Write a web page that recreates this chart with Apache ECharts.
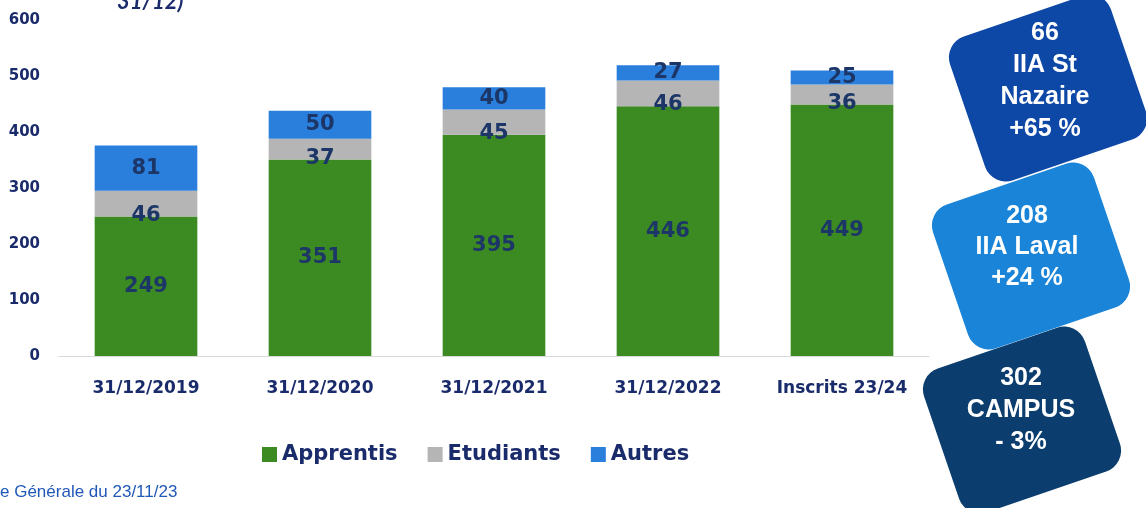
<!DOCTYPE html>
<html><head><meta charset="utf-8">
<script src="https://cdn.jsdelivr.net/npm/echarts@6/dist/echarts.min.js"></script>
<style>html,body{margin:0;padding:0;background:#fff}#c{width:1146px;height:508px}</style>
</head><body><div id="c"></div>
<script>
const categories = ['31/12/2019','31/12/2020','31/12/2021','31/12/2022','Inscrits 23/24'];
const apprentis = [249, 351, 395, 446, 449];
const etudiants = [46, 37, 45, 46, 36];
const autres = [81, 50, 40, 27, 25];
const yTicks = [0, 100, 200, 300, 400, 500, 600];
const seriesNames = ['Apprentis', 'Etudiants', 'Autres'];
const boxes = [
  {lines: ['66', 'IIA St', 'Nazaire', '+65 %']},
  {lines: ['208', 'IIA Laval', '+24 %']},
  {lines: ['302', 'CAMPUS', '- 3%']}
];

const navy = '#1a2b6b';
const labelFont = {fontFamily: 'DejaVu Sans', fontWeight: 'bold', fontSize: 21, color: '#1c3668'};
const chart = echarts.init(document.getElementById('c'));

function box(cx, cy, w, h, rot, fill, lines, tcx, tcy, lh, z) {
  const els = [{
    type: 'rect', z: z,
    x: cx, y: cy, rotation: rot,
    shape: {x: -w/2, y: -h/2, width: w, height: h, r: 22},
    style: {fill: fill}
  }];
  lines.forEach((t, i) => {
    els.push({
      type: 'text', z: z + 1,
      x: tcx, y: tcy + i * lh,
      style: {text: t, fill: '#fff', font: 'bold 25px "Liberation Sans", Arial', textAlign: 'center', textVerticalAlign: 'middle'}
    });
  });
  return els;
}

const graphics = [].concat(
  box(1048, 88, 170, 152, 0.33, '#0e48a6', boxes[0].lines, 1045, 33, 32, 10),
  box(1022, 420, 170, 152, 0.33, '#0b3d6e', boxes[2].lines, 1021, 378, 32, 10),
  box(1031, 256, 170, 152, 0.33, '#1a84d8', boxes[1].lines, 1027, 216, 31, 20),
  [{
    type: 'text', x: 117, y: -9,
    style: {text: '31/12)', fill: navy, font: 'italic bold 22px Lato'}
  }, {
    type: 'text', x: 0, y: 484,
    style: {text: 'e Générale du 23/11/23', fill: '#2158b8', font: '17px "Liberation Sans", Arial'}
  }]
);

chart.setOption({
  animation: false,
  grid: {left: 59, right: 217, top: 20, bottom: 152},
  legend: {
    data: seriesNames,
    left: 257, top: 439,
    itemWidth: 15, itemHeight: 15, itemGap: 30,
    icon: 'rect',
    textStyle: {fontFamily: 'DejaVu Sans', fontWeight: 'bold', fontSize: 21, color: navy}
  },
  xAxis: {
    type: 'category', data: categories,
    axisLine: {lineStyle: {color: '#d9d9d9', width: 1}},
    axisTick: {show: false},
    axisLabel: {margin: 24, fontFamily: 'DejaVu Sans', fontWeight: 'bold', fontSize: 17, color: navy}
  },
  yAxis: {
    type: 'value', min: yTicks[0], max: yTicks[yTicks.length - 1], interval: 100,
    axisLine: {show: false}, axisTick: {show: false},
    splitLine: {show: false},
    axisLabel: {margin: 19, fontFamily: 'DejaVu Sans', fontWeight: 'bold', fontSize: 15, color: navy}
  },
  series: [
    {name: seriesNames[0], type: 'bar', stack: 's', barWidth: '59%', data: apprentis,
     itemStyle: {color: '#3b8a22'},
     label: Object.assign({show: true, position: 'inside'}, labelFont)},
    {name: seriesNames[1], type: 'bar', stack: 's', data: etudiants,
     itemStyle: {color: '#b5b5b5'},
     label: Object.assign({show: true, position: ['50%', '95%'], align: 'center', verticalAlign: 'middle'}, labelFont)},
    {name: seriesNames[2], type: 'bar', stack: 's', data: autres,
     itemStyle: {color: '#2a7fdc'},
     label: Object.assign({show: true, position: 'inside'}, labelFont)}
  ],
  graphic: graphics
});
</script></body></html>
